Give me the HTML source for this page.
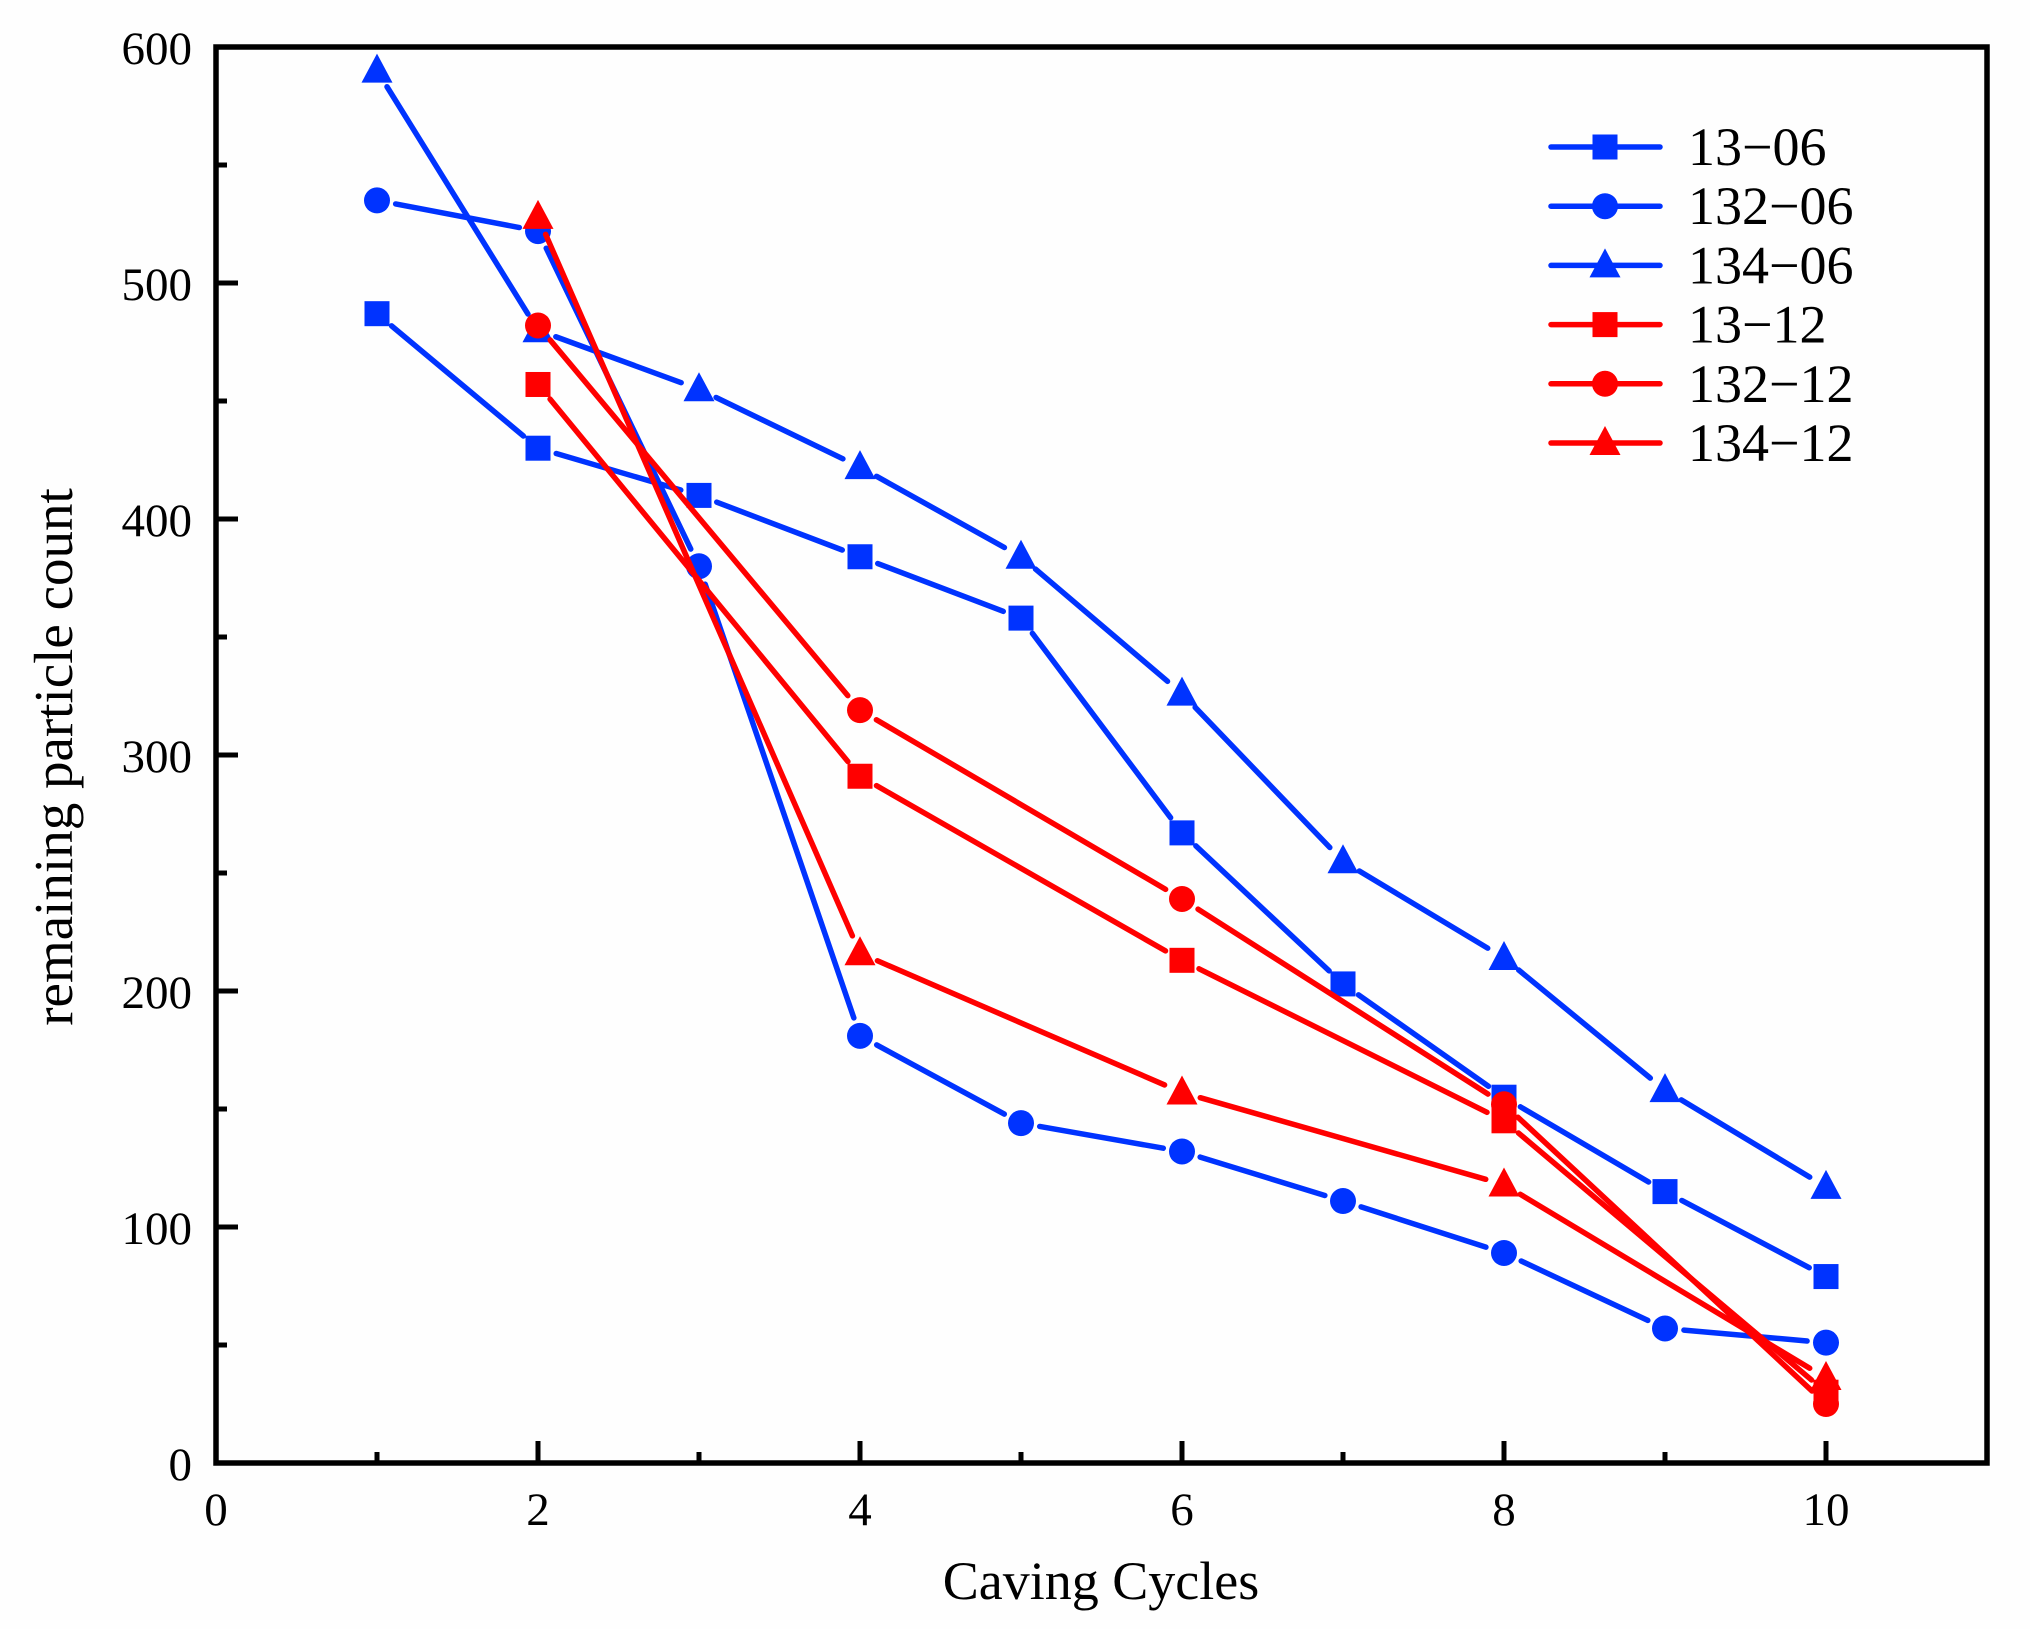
<!DOCTYPE html>
<html><head><meta charset="utf-8"><style>
html,body{margin:0;padding:0;background:#fff;}
svg{display:block;}
text{font-family:"Liberation Serif",serif;fill:#000;}
</style></head><body>
<svg id="chart" width="2030" height="1629" viewBox="0 0 2030 1629" xmlns="http://www.w3.org/2000/svg">
<rect width="2030" height="1629" fill="#fefefe"/>
<g id="series"></g>
<g id="axes"></g>
<g id="legend"></g>
<text x="1101" y="1599" font-size="54" text-anchor="middle">Caving Cycles</text>
<text transform="translate(72,757) rotate(-90)" font-size="55" text-anchor="middle">remaining particle count</text>
</svg>
<script>
const seriesNames = ["13-06","132-06","134-06","13-12","132-12","134-12"];
const seriesColors = ["#0033ff","#0033ff","#0033ff","#ff0000","#ff0000","#ff0000"];
const seriesMarkers = ["square","circle","triangle","square","circle","triangle"];
const xBlue = [1,2,3,4,5,6,7,8,9,10];
const xRed = [2,4,6,8,10];
const v1306 = [487,430,410,384,358,267,203,155,115,79];
const v13206 = [535,522,380,181,144,132,111,89,57,51];
const v13406 = [590,480,455,422,384,326,255,214,158,117];
const v1312 = [457,291,213,145,30];
const v13212 = [482,319,239,152,25];
const v13412 = [528,216,157,118,36];
const xTicks = [0,2,4,6,8,10];
const yTicks = [0,100,200,300,400,500,600];

const NS="http://www.w3.org/2000/svg";
const X0=216, X1=1987, Y0=1463, Y1=47, XMAX=11, YMAX=600;
const sx=v=>X0+(X1-X0)*v/XMAX;
const sy=v=>Y0-(Y0-Y1)*v/YMAX;
function mk(tag,attrs,parent){const e=document.createElementNS(NS,tag);for(const k in attrs)e.setAttribute(k,attrs[k]);parent.appendChild(e);return e;}

const seriesX=[xBlue,xBlue,xBlue,xRed,xRed,xRed];
const seriesY=[v1306,v13206,v13406,v1312,v13212,v13412];
const sg=document.getElementById('series');

function marker(type,x,y,color,parent){
  let e;
  if(type==='square') e=mk('rect',{x:x-12.5,y:y-12.5,width:25,height:25},parent);
  else if(type==='circle') e=mk('circle',{cx:x,cy:y,r:13},parent);
  else e=mk('polygon',{points:`${x},${y-17} ${x+15.5},${y+12} ${x-15.5},${y+12}`},parent);
  e.setAttribute('fill',color);
  return e;
}

seriesNames.forEach((nm,i)=>{
  const g=mk('g',{},sg);
  
  
  const xs=seriesX[i], ys=seriesY[i];
  for(let j=0;j<xs.length-1;j++){
    const ax=sx(xs[j]),ay=sy(ys[j]),bx=sx(xs[j+1]),by=sy(ys[j+1]);
    const dx=bx-ax,dy=by-ay,L=Math.hypot(dx,dy),gap=19;
    if(L<2*gap) continue;
    const l=mk('line',{x1:ax+dx/L*gap,y1:ay+dy/L*gap,x2:bx-dx/L*gap,y2:by-dy/L*gap,stroke:seriesColors[i],'stroke-width':5.5,'stroke-linecap':'round'},g);
    
    
  }
  for(let j=0;j<xs.length;j++){
    const m=marker(seriesMarkers[i],sx(xs[j]),sy(ys[j]),seriesColors[i],g);
    
    
  }
});

const ag=document.getElementById('axes');
const frame=mk('rect',{x:X0,y:Y1,width:X1-X0,height:Y0-Y1,fill:'none',stroke:'#000','stroke-width':5.5},ag);


for(let v=0;v<=YMAX;v+=50){
  const major=v%100===0;
  const t=mk('line',{x1:X0,y1:sy(v),x2:X0+(major?22:11),y2:sy(v),stroke:'#000','stroke-width':5},ag);
  
  
}
yTicks.forEach(v=>{
  const t=mk('text',{x:192,y:sy(v)+17,'font-size':47,'text-anchor':'end'},ag);
  t.textContent=v;
  
  
});
for(let v=1;v<XMAX;v++){
  const major=v%2===0;
  const t=mk('line',{x1:sx(v),y1:Y0,x2:sx(v),y2:Y0-(major?22:11),stroke:'#000','stroke-width':5},ag);
  
  
}
xTicks.forEach(v=>{
  const t=mk('text',{x:sx(v),y:1525,'font-size':47,'text-anchor':'middle'},ag);
  t.textContent=v;
  
  
});

const lg=document.getElementById('legend');
seriesNames.forEach((nm,i)=>{
  const y=147+i*59.2;
  const g=mk('g',{},lg);
  
  
  mk('line',{x1:1551,y1:y,x2:1660,y2:y,stroke:seriesColors[i],'stroke-width':5.5,'stroke-linecap':'round'},g);
  marker(seriesMarkers[i],1605,y,seriesColors[i],g);
  const t=mk('text',{x:1688,y:y+18,'font-size':54},g);
  t.textContent=nm.replace('-','\u2212');
});
</script>
</body></html>
